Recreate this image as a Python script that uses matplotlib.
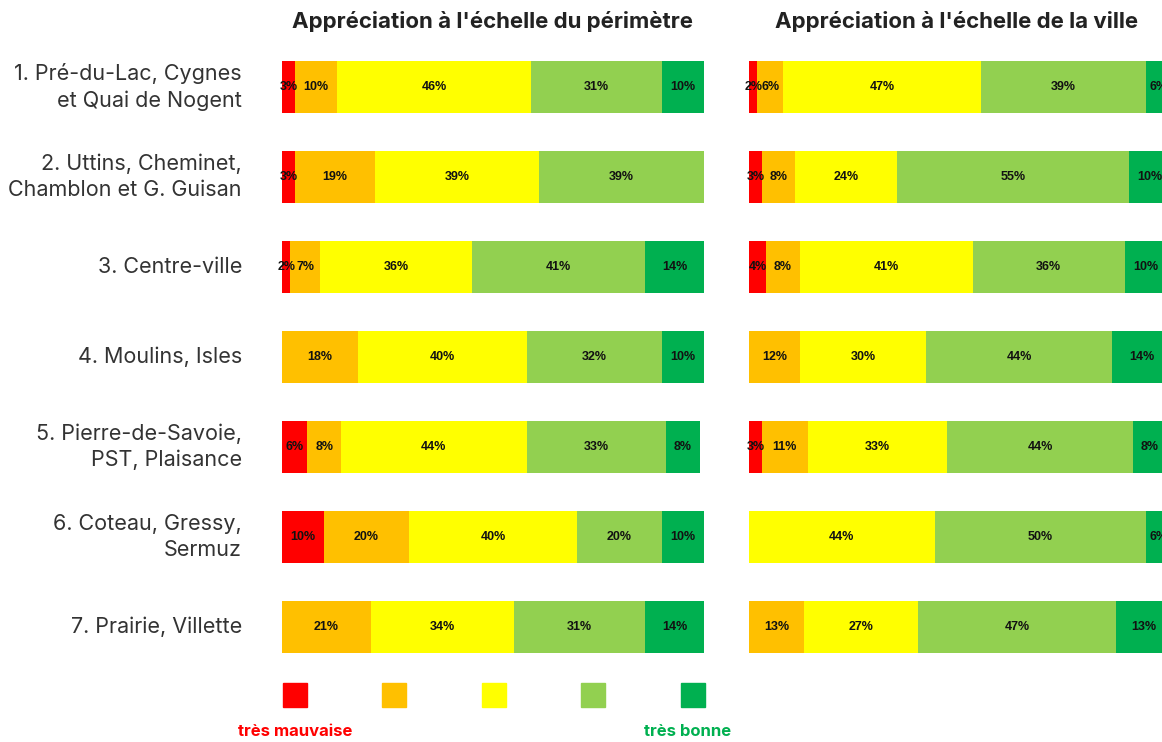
import matplotlib
matplotlib.use("Agg")
import matplotlib.pyplot as plt
import numpy as np

categories = [
    "1. Pré-du-Lac, Cygnes\net Quai de Nogent",
    "2. Uttins, Cheminet,\nChamblon et G. Guisan",
    "3. Centre-ville",
    "4. Moulins, Isles",
    "5. Pierre-de-Savoie,\nPST, Plaisance",
    "6. Coteau, Gressy,\nSermuz",
    "7. Prairie, Villette",
]

# columns: très mauvaise, mauvaise, moyenne, bonne, très bonne
perimetre = [
    [3, 10, 46, 31, 10],
    [3, 19, 39, 39, 0],
    [2, 7, 36, 41, 14],
    [0, 18, 40, 32, 10],
    [6, 8, 44, 33, 8],
    [10, 20, 40, 20, 10],
    [0, 21, 34, 31, 14],
]
ville = [
    [2, 6, 47, 39, 6],
    [3, 8, 24, 55, 10],
    [4, 8, 41, 36, 10],
    [0, 12, 30, 44, 14],
    [3, 11, 33, 44, 8],
    [0, 0, 44, 50, 6],
    [0, 13, 27, 47, 13],
]
titles = ["Appréciation à l'échelle du périmètre", "Appréciation à l'échelle de la ville"]
legend_labels = ["très mauvaise", "très bonne"]
colors = ["#FF0000", "#FFC000", "#FFFF00", "#92D050", "#00B050"]

W, H = 1162, 742
fig = plt.figure(figsize=(W / 100, H / 100), dpi=100)
plt.rcParams["font.family"] = ["Inter", "DejaVu Sans"]


def fig_axes(x0, y0, x1, y1):
    return fig.add_axes([x0 / W, 1 - y1 / H, (x1 - x0) / W, (y1 - y0) / H])


panels = [(perimetre, fig_axes(282, 42, 704, 672)),
          (ville, fig_axes(749, 42, 1171, 672))]

for data, ax in panels:
    arr = np.array(data, dtype=float)
    y = np.arange(len(categories))
    left = np.zeros(len(categories))
    for j in range(arr.shape[1]):
        ax.barh(y, arr[:, j], left=left, height=0.58, color=colors[j],
                edgecolor="none")
        for i in range(len(categories)):
            v = arr[i, j]
            if v > 0:
                ax.text(left[i] + v / 2, y[i], f"{int(v)}%", ha="center",
                        va="center", fontsize=9, fontweight="bold",
                        family=["Liberation Sans", "DejaVu Sans"], color="#111111",
                        clip_on=False)
        left += arr[:, j]
    ax.set_xlim(0, 100)
    ax.set_ylim(len(categories) - 0.5, -0.5)
    ax.axis("off")

# titles
fig.text(493 / W, 1 - 21 / H, titles[0], ha="center", va="center",
         fontsize=16, fontweight="bold", color="#222222")
fig.text(957 / W, 1 - 21 / H, titles[1], ha="center", va="center",
         fontsize=16, fontweight="bold", color="#222222")

# row labels
ax0 = panels[0][1]
for i, c in enumerate(categories):
    ax0.text(-9.5, i, c, ha="right", va="center", fontsize=15.5,
             color="#333333", linespacing=1.35)

# legend squares
lx = [295, 394, 494, 593, 693]
for x, col in zip(lx, colors):
    fig.patches.append(plt.Rectangle(((x - 12) / W, 1 - 707 / H), 24 / W, 24 / H,
                                     transform=fig.transFigure, color=col))
fig.text(295 / W, 1 - 732 / H, legend_labels[0], ha="center", va="center",
         fontsize=12, fontweight="bold", color="#FF0000")
fig.text(688 / W, 1 - 732 / H, legend_labels[1], ha="center", va="center",
         fontsize=12, fontweight="bold", color="#00B050")

fig.savefig("out.png", dpi=100)
